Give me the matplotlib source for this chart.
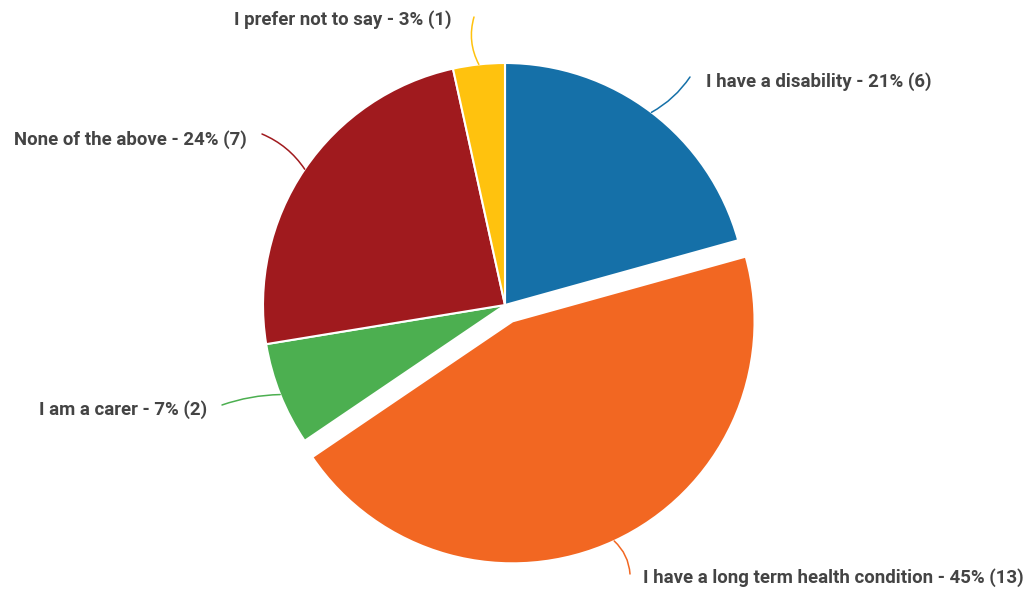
import numpy as np
import matplotlib
matplotlib.use("Agg")
import matplotlib.pyplot as plt

labels = ["I have a disability", "I have a long term health condition",
          "I am a carer", "None of the above", "I prefer not to say"]
counts = [6, 13, 2, 7, 1]
colors = ["#1570a8", "#f26722", "#4caf50", "#a01a1e", "#ffc20e"]
explode = [0, 18, 0, 0, 0]  # pie() offsets in data units, here pixels

# label placement in pixels (y measured from top): leader end, text anchor, alignment, curve
lead_end = [(690, 77), (630, 574), (222, 405), (262, 134), (474, 17)]
text_pos = [(706, 82), (643, 578), (207, 410), (247, 140), (452, 20)]
text_ha = ["left", "left", "right", "right", "right"]
curve = [-0.12, 0.2, -0.08, -0.15, 0.2]

W, H = 1032, 590
cx, cy, R = 505, 305, 242

fig = plt.figure(figsize=(W / 100, H / 100), dpi=100)
ax = fig.add_axes([0, 0, 1, 1])

wedges, _ = ax.pie(counts, colors=colors, explode=explode, startangle=90,
                   counterclock=False, radius=R, center=(cx, H - cy),
                   wedgeprops=dict(edgecolor="white", linewidth=1.5))
ax.set_xlim(0, W)
ax.set_ylim(0, H)
ax.set_aspect("equal")
ax.axis("off")

total = sum(counts)
for i, w in enumerate(wedges):
    mid = np.deg2rad((w.theta1 + w.theta2) / 2)
    cxw, cyw = w.center
    anchor = (cxw + w.r * np.cos(mid), cyw + w.r * np.sin(mid))
    end = (lead_end[i][0], H - lead_end[i][1])
    ax.annotate("", xy=anchor, xytext=end,
                arrowprops=dict(arrowstyle="-", color=colors[i], lw=1.1,
                                shrinkA=0, shrinkB=0,
                                connectionstyle=f"arc3,rad={curve[i]}"))
    pct = round(100 * counts[i] / total)
    ax.text(text_pos[i][0], H - text_pos[i][1],
            f"{labels[i]} - {pct}% ({counts[i]})",
            ha=text_ha[i], va="center", fontsize=13.4, fontweight="bold",
            family=["Roboto", "DejaVu Sans"], color="#444444")

fig.savefig("out.png", dpi=100, facecolor="white")
